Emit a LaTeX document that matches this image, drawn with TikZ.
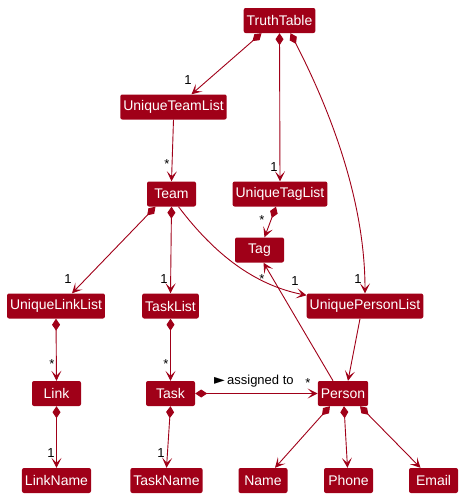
\documentclass[tikz,border=0pt]{standalone}
\usepackage{fontspec}
\setmainfont{Liberation Sans}
\newfontfamily\symfont{DejaVu Sans}
\usetikzlibrary{arrows.meta}
\definecolor{umlred}{HTML}{A00018}
\tikzset{
  cls/.style={fill=umlred, text=white, rounded corners=2pt, minimum width=49pt, minimum height=25pt,
    inner xsep=3pt, inner ysep=0pt, font=\fontsize{14}{16}\selectfont},
  lbl/.style={font=\fontsize{13}{15}\selectfont, inner sep=0pt, text=black},
  rel/.style={draw=umlred, line width=0.9pt, -{Stealth[length=10pt,width=10pt,inset=5pt]}},
  comp/.style={draw=umlred, line width=0.9pt, {Diamond[length=12pt,width=8pt]}-{Stealth[length=10pt,width=10pt,inset=5pt]}}
}
\begin{document}
\begin{tikzpicture}[x=1pt,y=-1pt]
\useasboundingbox (0,0) rectangle (463,498);
\node[cls] (tt) at (279.5,20.5) {TruthTable};
\node[cls] (utl) at (173.5,107) {UniqueTeamList};
\node[cls] (team) at (171.5,194) {Team};
\node[cls] (utagl) at (280,194) {UniqueTagList};
\node[cls] (tag) at (259.5,250) {Tag};
\node[cls] (ull) at (56,306) {UniqueLinkList};
\node[cls] (tl) at (170.5,306) {TaskList};
\node[cls] (upl) at (365,306) {UniquePersonList};
\node[cls] (link) at (56.5,393.5) {Link};
\node[cls] (task) at (170.5,393.5) {Task};
\node[cls] (person) at (343,393.5) {Person};
\node[cls] (ln) at (56.5,480.5) {LinkName};
\node[cls] (tn) at (166.5,480.5) {TaskName};
\node[cls] (name) at (263,480.5) {Name};
\node[cls] (phone) at (348.5,480.5) {Phone};
\node[cls] (email) at (433.5,480.5) {Email};

\draw[comp] ([xshift=-18pt]tt.south) -- ([xshift=18pt]utl.north);
\draw[comp] (tt.south) -- (utagl.north);
\draw[comp] ([xshift=11pt]tt.south) .. controls (330,110) and (365,200) .. (upl.north);
\draw[rel] (utl.south) -- (team.north);
\draw[comp] ([xshift=-4pt]utagl.south) -- ([xshift=5pt]tag.north);
\draw[comp] ([xshift=-16pt]team.south) -- ([xshift=16pt]ull.north);
\draw[comp] (team.south) -- (tl.north);
\draw[rel] ([xshift=7pt]team.south) .. controls (215,255) and (255,285) .. ([yshift=-2pt]upl.north west);
\draw[comp] (ull.south) -- (link.north);
\draw[comp] (tl.south) -- (task.north);
\draw[rel] ([xshift=-5pt]upl.south) -- ([xshift=5pt]person.north);
\draw[rel] ([xshift=-10pt]person.north) -- ([xshift=4pt]tag.south);
\draw[comp] (task.east) -- (person.west);
\draw[comp] (link.south) -- (ln.north);
\draw[comp] (task.south) -- (tn.north);
\draw[comp] ([xshift=-13pt]person.south) -- ([xshift=12pt]name.north);
\draw[comp] ([xshift=1pt]person.south) -- ([xshift=-1pt]phone.north);
\draw[comp] ([xshift=17pt]person.south) -- ([xshift=-13pt]email.north);

\node[lbl] (l1) at (188,80) {1};
\node[lbl] (l2) at (274,167) {1};
\node[lbl] (l3) at (358,279) {1};
\node[lbl] (l4) at (295,281) {1};
\node[lbl] (l5) at (68,279) {1};
\node[lbl] (l6) at (164,279) {1};
\node[lbl] (l7) at (167,164) {*};
\node[lbl] (l8) at (262,220) {*};
\node[lbl] (l9) at (262,279) {*};
\node[lbl] (l10) at (52,364) {*};
\node[lbl] (l11) at (166,364) {*};
\node[lbl] (l12) at (51,453) {1};
\node[lbl] (l13) at (161,453) {1};
\node[lbl] (l14) at (308,383) {*};
\node[lbl, anchor=west] (l15) at (214,381) {{\symfont\fontsize{14}{15}\selectfont ►}\,assigned to};
\end{tikzpicture}
\end{document}
